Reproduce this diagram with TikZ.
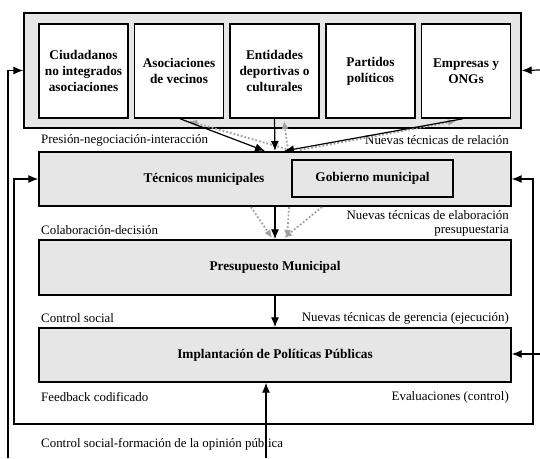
\documentclass[tikz,border=0pt]{standalone}
\usepackage{fontspec}
\setmainfont{Liberation Serif}
\usetikzlibrary{arrows.meta,calc}
\definecolor{boxgray}{HTML}{E6E6E6}
\definecolor{dotgray}{HTML}{A0A0A0}
\begin{document}
\begin{tikzpicture}[x=1pt,y=-1pt,
  actor/.style={draw,line width=1.5pt,fill=white,minimum width=89pt,minimum height=94pt,inner sep=1pt,align=center,
     font=\fontsize{13.3}{16}\selectfont\bfseries},
  band/.style={draw,line width=1.4pt,fill=boxgray,minimum width=472pt,inner sep=0pt,
     font=\fontsize{13.3}{15}\selectfont\bfseries},
  lab/.style={font=\fontsize{12.9}{14}\selectfont,inner sep=0pt},
  arr/.style={line width=1.2pt,-{Latex[length=10pt,width=8pt]}},
  darr/.style={line width=1.8pt,dotgray,dotted,-{Latex[length=8pt,width=7pt]}},
  fb/.style={line width=1.2pt}]
\useasboundingbox (0,0) rectangle (540,458);
% outer group box
\node[draw,line width=1.3pt,fill=boxgray,minimum width=497pt,minimum height=115pt,inner sep=0pt] (grp) at (272.5,70.5) {};
\node[actor] (b1) at (83.5,71) {Ciudadanos\\no integrados\\asociaciones};
\node[actor] (b2) at (179,71) {Asociaciones\\de vecinos};
\node[actor] (b3) at (274.5,71) {Entidades\\deportivas o\\culturales};
\node[actor] (b4) at (370.5,71) {Partidos\\políticos};
\node[actor] (b5) at (466,71) {Empresas y\\ONGs};
% bands
\node[band,minimum height=54pt] (tec) at (275,179) {};
\node[font=\fontsize{13.3}{15}\selectfont\bfseries] (tect) at (204,179) {Técnicos municipales};
\node[draw,line width=1.4pt,fill=boxgray,minimum width=161pt,minimum height=37pt,inner sep=0pt,
  font=\fontsize{13.3}{15}\selectfont\bfseries] (gob) at (372.5,178.5) {Gobierno municipal};
\node[band,minimum height=55pt] (pre) at (275,267.5) {Presupuesto Municipal};
\node[band,minimum height=54pt] (imp) at (275,355) {Implantación de Políticas Públicas};
% labels
\node[lab,anchor=west] (l1) at (41,140) {Presión-negociación-interacción};
\node[lab,anchor=east] (l2) at (509,140) {Nuevas técnicas de relación};
\node[lab,anchor=west] (l3) at (41,230) {Colaboración-decisión};
\node[lab,anchor=east,align=right] (l4) at (509,223) {Nuevas técnicas de elaboración\\presupuestaria};
\node[lab,anchor=west] (l5) at (41,318) {Control social};
\node[lab,anchor=east] (l6) at (509,318) {Nuevas técnicas de gerencia (ejecución)};
\node[lab,anchor=west] (l7) at (41,397) {Feedback codificado};
\node[lab,anchor=east] (l8) at (509,397) {Evaluaciones (control)};
\node[lab,anchor=west] (l9) at (41,444) {Control social-formación de la opinión pública};
% convergence coordinates
\coordinate (t1) at (265,151);
\coordinate (t2) at (275,151);
\coordinate (t3) at (284,151);
% gray dotted return arrows
\draw[darr] (290,150) -- (189,121);
\draw[darr] (288,150) -- (284,121);
\draw[darr] (300,150) -- (456,121);
\draw[darr] (251,207) -- (272,238);
\draw[darr] (289,207) -- (287,238);
\draw[darr] (322,207) -- (284,238);
% black arrows
\draw[arr] (b2.south) ++(1,0) -- (t1);
\draw[arr] (b3.south) -- (t2);
\draw[arr] (b5.south) ++(-3,0) -- (t3);
\draw[arr] (tec.south) -- (pre.north);
\draw[arr] (pre.south) -- (imp.north);
% feedback lines
\coordinate (lbot) at (8,458);
\coordinate (rtop) at (540,70);
\coordinate (rimp) at (540,354);
\coordinate (ubot) at (266,458);
\coordinate (lb) at (14,424);
\coordinate (rb) at (533,424);
\draw[arr] (lbot) |- (grp.west);
\draw[arr] (rtop) -- (grp.east);
\draw[fb,{Latex[length=10pt,width=8pt]}-{Latex[length=10pt,width=8pt]}] (tec.west) -| (lb) -- (rb) |- (tec.east);
\draw[arr] (rimp) -- (rimp -| imp.east);
\draw[arr] (ubot) -- (ubot |- imp.south);
\end{tikzpicture}
\end{document}
